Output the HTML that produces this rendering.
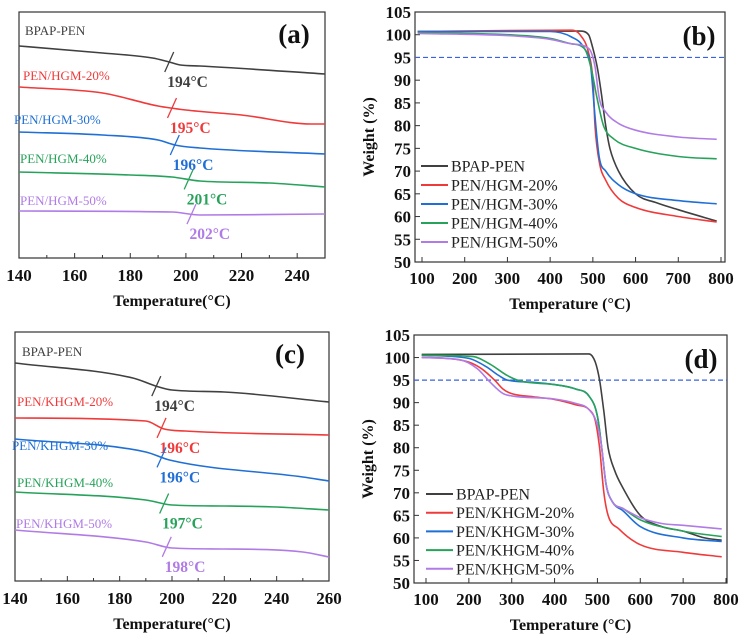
<!DOCTYPE html>
<html><head><meta charset="utf-8">
<style>
html,body{margin:0;padding:0;background:#fff;}
svg{display:block;font-family:"Liberation Serif",serif;}
</style></head>
<body>
<svg id="fig" width="746" height="641" viewBox="0 0 746 641" xmlns="http://www.w3.org/2000/svg"></svg>
<script>
// ---- Panel (a) DSC data (arbitrary offset units) ----
const aTemps = {
  bpap:[140,170,188,194,198,205,250],
  h20:[140,170,190,200,220,245,250],
  h30:[140,170,190,196,205,250],
  h40:[140,180,195,205,230,250],
  h50:[140,195,205,250]
};
const aVals = {
  bpap:[212,205,200,196,193,192,184],
  h20:[171,165,152,148,143,134,134],
  h30:[126,123,118,113,110,104],
  h40:[86,83,81,77,75,71],
  h50:[47,46,43,44]
};
const aTg = [194,195,196,201,202];
const aNames = ["BPAP-PEN","PEN/HGM-20%","PEN/HGM-30%","PEN/HGM-40%","PEN/HGM-50%"];
// ---- Panel (c) DSC data ----
const cTemps = {
  bpap:[140,185,195,200,220,260],
  k20:[140,190,197,205,260],
  k30:[140,190,199,250,260],
  k40:[140,190,200,220,240,260],
  k50:[140,190,200,220,250,260]
};
const cVals = {
  bpap:[218,203,194,191,189,179],
  k20:[163,160,152,150,146],
  k30:[142,129,121,104,100],
  k40:[89,81,76,75,74,71],
  k50:[51,39,33,32,29,24]
};
const cTg = [194,196,196,197,198];
const cNames = ["BPAP-PEN","PEN/KHGM-20%","PEN/KHGM-30%","PEN/KHGM-40%","PEN/KHGM-50%"];
// ---- Panel (b) TGA ----
const bTemps = {
  bpap:[90,470,490,500,510,520,530,540,560,600,650,700,790],
  h20:[90,450,470,490,500,505,515,530,560,600,700,790],
  h30:[90,400,450,480,495,505,515,530,560,600,700,790],
  h40:[90,300,400,450,480,495,510,525,550,600,700,790],
  h50:[90,300,400,450,490,505,515,530,560,600,700,790]
};
const bVals = {
  bpap:[100.7,100.8,100,97,93,87,80,75,70,65,63,61.5,59],
  h20:[100.7,101,100,96,90,80,72,68,64,62,60,58.8],
  h30:[100.7,100.7,99.5,97,93,82,73,70,67,65,63.5,62.8],
  h40:[100.5,100,99.2,98,97,93,86,80,77,75,73.2,72.7],
  h50:[100.3,99.8,99,98,97,93,86,83,80.5,79,77.5,77]
};
// ---- Panel (d) TGA ----
const dTemps = {
  bpap:[90,480,495,505,515,525,540,560,600,650,700,750,790],
  k20:[90,150,200,230,260,280,300,350,400,450,480,495,505,515,525,550,600,700,790],
  k30:[90,200,240,270,290,350,400,450,480,500,510,520,535,560,600,700,790],
  k40:[90,210,250,290,320,400,450,480,500,510,520,535,560,600,700,790],
  k50:[90,180,220,250,280,300,400,450,480,500,510,520,535,560,600,650,700,790]
};
const dVals = {
  bpap:[100.7,100.8,99,95,88,80,75,71,65,62.5,61.5,60,59.5],
  k20:[100,99.8,99,97.5,95,93,92,91.3,90.7,89.5,88.5,86,80,70,65,62,58.5,56.8,55.8],
  k30:[100.5,99.8,98,96,95,94.5,94,93,91.5,87,80,72,68,66,62.5,60,59.2],
  k40:[100.5,100.2,98.5,96,94.8,94,93,91.5,87,80,72,68,66.5,64,61.5,60.3],
  k50:[100,99.5,97.5,94.5,92,91.5,90.8,89.8,88.5,85,80,72,68,66.5,64.5,63.2,62.8,62]
};
const tgaYTicks=[50,55,60,65,70,75,80,85,90,95,100,105];
const tgaXTicks=[100,200,300,400,500,600,700,800];
const colors=["#404040","#f03a3a","#1f6fd6","#27a25a","#b07be6"];
const NS="http://www.w3.org/2000/svg";
const svg=document.getElementById('fig');
function el(tag,attrs,parent){const e=document.createElementNS(NS,tag);for(const k in attrs)e.setAttribute(k,attrs[k]);(parent||svg).appendChild(e);return e;}
function txt(s,attrs,parent){const e=el('text',attrs,parent);e.textContent=s;return e;}
function lin(d0,d1,r0,r1){return v=>r0+(v-d0)/(d1-d0)*(r1-r0);}

function frame(g,L,T,R,B){
  const f=el('rect',{x:L,y:T,width:R-L,height:B-T,fill:'none',stroke:'#333','stroke-width':1.2},g);
  
  
}
// monotone cubic path (Fritsch-Carlson)
function monoPath(px,py){
  const n=px.length; if(n<2) return '';
  const d=[],m=[];
  for(let i=0;i<n-1;i++) d.push((py[i+1]-py[i])/(px[i+1]-px[i]));
  m[0]=d[0]; m[n-1]=d[n-2];
  for(let i=1;i<n-1;i++){ m[i]=(d[i-1]*d[i]<=0)?0:(d[i-1]+d[i])/2; }
  for(let i=0;i<n-1;i++){
    if(d[i]===0){m[i]=0;m[i+1]=0;continue;}
    const a=m[i]/d[i],b=m[i+1]/d[i],s=a*a+b*b;
    if(s>9){const t=3/Math.sqrt(s);m[i]=t*a*d[i];m[i+1]=t*b*d[i];}
  }
  let p='M'+px[0].toFixed(1)+','+py[0].toFixed(1);
  for(let i=0;i<n-1;i++){
    const h=(px[i+1]-px[i])/3;
    p+=' C'+(px[i]+h).toFixed(1)+','+(py[i]+m[i]*h).toFixed(1)+' '+(px[i+1]-h).toFixed(1)+','+(py[i+1]-m[i+1]*h).toFixed(1)+' '+px[i+1].toFixed(1)+','+py[i+1].toFixed(1);
  }
  return p;
}
function series(g,xs,ys,X,Y,color,name){
  const pth=el('path',{d:monoPath(xs.map(X),ys.map(Y)),fill:'none',stroke:color,'stroke-width':1.6,'stroke-linejoin':'round'},g);
  
  
}
function interp(xs,ys,t){for(let i=0;i<xs.length-1;i++){if(t>=xs[i]&&t<=xs[i+1])return ys[i]+(ys[i+1]-ys[i])*(t-xs[i])/(xs[i+1]-xs[i]);}return ys[ys.length-1];}

// DSC panel
function dsc(cfg){
  const g=el('g',{});
  
  
  const X=lin(140,cfg.xmax,cfg.L,cfg.R), Y=lin(0,cfg.B-cfg.T,cfg.B,cfg.T);
  frame(g,cfg.L,cfg.T,cfg.R,cfg.B);
  for(let t=140;t<=cfg.xmax;t+=10){
    const major=(t%20===0);
    const tk=el('line',{x1:X(t),x2:X(t),y1:cfg.B,y2:cfg.B-(major?5:3),stroke:'#333','stroke-width':1},g);
    
    
    if(major){
      const lb=txt(String(t),{x:X(t),y:cfg.B+23,'text-anchor':'middle','font-size':17,'font-weight':'bold',fill:'#111'},g);
      
      
    }
  }
  const xt=txt('Temperature(°C)',{x:(cfg.L+cfg.R)/2,y:cfg.B+48,'text-anchor':'middle','font-size':16,'font-weight':'bold',fill:'#111'},g);
  
  
  const pl=txt(cfg.panel,{x:cfg.L+275,y:cfg.T+31,'text-anchor':'middle','font-size':27,'font-weight':'bold',fill:'#111'},g);
  
  
  cfg.keys.forEach((k,i)=>{
    const xs=cfg.temps[k], ys=cfg.vals[k];
    series(g,xs,ys,X,Y,colors[i],'dsc-curve-'+k);
    const tg=cfg.tg[i], yv=Y(interp(xs,ys,tg));
    const sl=el('line',{x1:X(tg)-4.5,y1:yv+10,x2:X(tg)+4.5,y2:yv-10,stroke:colors[i],'stroke-width':1.3},g);
    
    
    const tl=txt(tg+'°C',{x:X(tg)-2,y:yv+25,'font-size':15.5,'font-weight':'bold',fill:colors[i]},g);
    
    
    const nl=txt(cfg.names[i],{x:cfg.nameX[i],y:cfg.nameY[i],'font-size':13,fill:colors[i]},g);
    
    
  });
}
dsc({id:'panel-a',panel:'(a)',L:19,R:325,T:12,B:258,xmax:250,temps:aTemps,vals:aVals,tg:aTg,names:aNames,keys:['bpap','h20','h30','h40','h50'],
  nameX:[25,23,14,20,20],nameY:[35,80,124,163,205]});
dsc({id:'panel-c',panel:'(c)',L:15,R:329,T:332,B:581,xmax:260,temps:cTemps,vals:cVals,tg:cTg,names:cNames,keys:['bpap','k20','k30','k40','k50'],
  nameX:[22,17,12,17,16],nameY:[356,406,450,487,528]});

// TGA panel
function tga(cfg){
  const g=el('g',{});
  
  
  const X=lin(100,800,cfg.x100,cfg.x800), Y=lin(50,105,cfg.B,cfg.T);
  frame(g,cfg.L,cfg.T,cfg.R,cfg.B);
  tgaYTicks.forEach(v=>{
    const tk=el('line',{x1:cfg.L,x2:cfg.L+5,y1:Y(v),y2:Y(v),stroke:'#333'},g);
    
    
    const lb=txt(String(v),{x:cfg.L-4,y:Y(v)+6,'text-anchor':'end','font-size':17,'font-weight':'bold',fill:'#111'},g);
    
    
  });
  tgaXTicks.forEach(v=>{
    const tk=el('line',{x1:X(v),x2:X(v),y1:cfg.B,y2:cfg.B-5,stroke:'#333'},g);
    
    
    const lb=txt(String(v),{x:X(v),y:cfg.B+22,'text-anchor':'middle','font-size':17,'font-weight':'bold',fill:'#111'},g);
    
    
  });
  const dl=el('line',{x1:cfg.L,x2:cfg.R,y1:Y(95),y2:Y(95),stroke:'#3a62e0','stroke-dasharray':'5,3','stroke-width':1.2},g);
  
  
  cfg.keys.forEach((k,i)=>series(g,cfg.temps[k],cfg.vals[k],X,Y,colors[i],'tga-curve-'+k));
  const yt=txt('Weight (%)',{x:0,y:0,transform:`translate(${cfg.L-41},${(cfg.T+cfg.B)/2}) rotate(-90)`,'text-anchor':'middle','font-size':16,'font-weight':'bold',fill:'#111'},g);
  
  
  const xt=txt('Temperature (°C)',{x:(cfg.L+cfg.R)/2,y:cfg.B+47,'text-anchor':'middle','font-size':16,'font-weight':'bold',fill:'#111'},g);
  
  
  const pl=txt(cfg.panel,{x:cfg.R-26,y:cfg.T+33,'text-anchor':'middle','font-size':27,'font-weight':'bold',fill:'#111'},g);
  
  
  cfg.names.forEach((n,i)=>{
    const y=cfg.legY+i*cfg.legDy;
    const ll=el('line',{x1:cfg.legX,x2:cfg.legX+27,y1:y,y2:y,stroke:colors[i],'stroke-width':2},g);
    
    
    const lt=txt(n,{x:cfg.legX+30,y:y+5.5,'font-size':16,fill:'#222'},g);
    
    
  });
}
tga({id:'panel-b',panel:'(b)',L:415,R:725,T:12,B:262,x100:422,x800:721,temps:bTemps,vals:bVals,keys:['bpap','h20','h30','h40','h50'],
  names:aNames,legX:421,legY:166,legDy:19});
tga({id:'panel-d',panel:'(d)',L:414,R:727,T:335,B:583,x100:426,x800:726,temps:dTemps,vals:dVals,keys:['bpap','k20','k30','k40','k50'],
  names:["BPAP-PEN","PEN/KHGM-20%","PEN/KHGM-30%","PEN/KHGM-40%","PEN/KHGM-50%"],legX:426,legY:494,legDy:18.7});
</script>
</body></html>
